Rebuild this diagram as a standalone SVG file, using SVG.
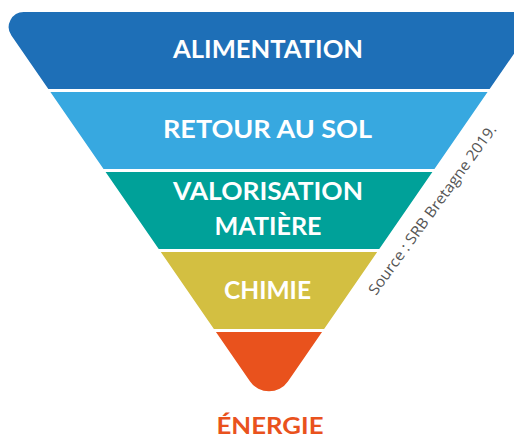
<svg xmlns="http://www.w3.org/2000/svg" width="514" height="438" viewBox="0 0 514 438">
<style>
.lbl{font-family:"Lato","Noto Sans","Liberation Sans",sans-serif;font-weight:700;font-size:24px;fill:#ffffff;text-anchor:middle}
.src{font-family:"Open Sans","Liberation Sans",sans-serif;font-size:15px;fill:#555555}
</style>
<defs>
<clipPath id="tri">
<path d="M23.8 12 H514.2 A15 15 0 0 1 526.6 35.5 L287.9 381.4 A23 23 0 0 1 250.1 381.4 L11.4 35.5 A15 15 0 0 1 23.8 12 Z"/>
</clipPath>
</defs>
<rect width="514" height="438" fill="#ffffff"/>
<g clip-path="url(#tri)">
<g id="alimentation"><rect x="0" y="0" width="560" height="89" fill="#1E6FB7"/></g>
<g id="retour"><rect x="0" y="92" width="560" height="77" fill="#37A8E0"/></g>
<g id="valorisation"><rect x="0" y="172" width="560" height="77" fill="#00A199"/></g>
<g id="chimie"><rect x="0" y="252" width="560" height="77" fill="#D3BF41"/></g>
<g id="energie"><rect x="0" y="332" width="560" height="80" fill="#E9521D"/></g>
</g>
<text class="lbl" x="268" y="58" textLength="190" lengthAdjust="spacingAndGlyphs">ALIMENTATION</text>
<text class="lbl" x="267.5" y="138" textLength="209" lengthAdjust="spacingAndGlyphs">RETOUR AU SOL</text>
<text class="lbl" x="268" y="200" textLength="190" lengthAdjust="spacingAndGlyphs">VALORISATION</text>
<text class="lbl" x="268" y="235" textLength="107" lengthAdjust="spacingAndGlyphs">MATIÈRE</text>
<text class="lbl" x="267.5" y="298.5" textLength="87" lengthAdjust="spacingAndGlyphs">CHIMIE</text>
<text class="lbl" x="270" y="433.5" textLength="107" lengthAdjust="spacingAndGlyphs" style="fill:#E9521D;font-size:23px">ÉNERGIE</text>
<text class="src" transform="translate(376 296) rotate(-54)" textLength="206" lengthAdjust="spacingAndGlyphs">Source : SRB Bretagne 2019.</text>
</svg>
